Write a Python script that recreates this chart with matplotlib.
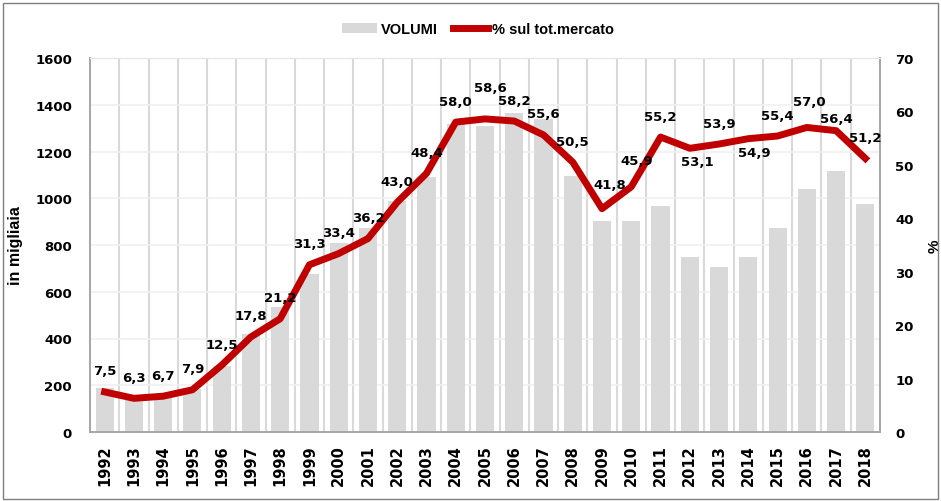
import matplotlib.pyplot as plt
import numpy as np
from matplotlib.patches import Rectangle

years = [str(y) for y in range(1992, 2019)]
volumi = [187, 150, 160, 184, 284, 419, 533, 676, 808, 872, 989, 1092, 1318,
          1310, 1364, 1339, 1094, 904, 904, 968, 750, 706, 750, 872, 1041, 1115, 977]
quota = [7.5, 6.3, 6.7, 7.9, 12.5, 17.8, 21.2, 31.3, 33.4, 36.2, 43.0, 48.4, 58.0,
         58.6, 58.2, 55.6, 50.5, 41.8, 45.9, 55.2, 53.1, 53.9, 54.9, 55.4, 57.0, 56.4, 51.2]

# label offsets (dx, dy) in pixels relative to each point
label_offsets = {i: (0, 21) for i in range(len(years))}
label_offsets.update({13: (5, 31), 17: (8, 24), 18: (5, 26), 20: (7, -13),
                      22: (6, -14), 24: (2, 26), 25: (0, 12)})

plt.rcParams["font.family"] = ["DejaVu Sans"]

fig = plt.figure(figsize=(9.41, 5.02), dpi=100)
ax = fig.add_axes([90 / 941, 1 - 433 / 502, 790 / 941, 374 / 502])
ax2 = ax.twinx()

x = np.arange(len(years))
bars = ax.bar(x, volumi, width=0.62, color="#d9d9d9", zorder=2, label="VOLUMI")
ax.set_xlim(-0.5, len(years) - 0.5)
ax.set_ylim(0, 1600)
ax.set_yticks(range(0, 1601, 200))
ax.set_xticks(x)
ax.set_xticklabels(years, rotation=90, fontsize=10.5, fontweight="bold")
for b in np.arange(0.5, len(years) - 1, 1):
    ax.axvline(b, color="#d9d9d9", lw=1.5, zorder=1)
for yv in range(200, 1601, 200):
    ax.axhline(yv, color="#f0f0f0", lw=1.2, zorder=1)
ax.tick_params(axis="both", length=0)
ax.tick_params(axis="y", pad=13, labelsize=9.5)
ax.tick_params(axis="x", pad=9)
for lab in ax.get_yticklabels():
    lab.set_fontweight("bold")
ax.set_ylabel("in migliaia", fontsize=11.5, fontweight="bold", family="Liberation Sans", labelpad=9)

line, = ax2.plot(x, quota, color="#c00000", lw=5, zorder=3, label="% sul tot.mercato")
ax2.set_ylim(0, 70)
ax2.set_yticks(range(0, 71, 10))
ax2.tick_params(axis="y", length=0, pad=11, labelsize=9.5)
for lab in ax2.get_yticklabels():
    lab.set_fontweight("bold")
ax2.set_ylabel("%", fontsize=11, fontweight="bold", family="Liberation Sans", labelpad=10)

for i, v in enumerate(quota):
    dx, dy = label_offsets[i]
    ax2.annotate(f"{v:.1f}".replace(".", ","), (i, v), xytext=(dx * 0.72, dy * 0.72),
                 textcoords="offset points", ha="center", va="center",
                 fontsize=9.5, fontweight="bold", color="black", zorder=4)

for a in (ax, ax2):
    for side in ("left", "bottom", "right"):
        a.spines[side].set_color("#a6a6a6")
        a.spines[side].set_linewidth(1.2)
    a.spines["top"].set_color("#e6e6e6")

fig.legend(handles=[bars, line], labels=["VOLUMI", "% sul tot.mercato"],
           loc="center", bbox_to_anchor=(478 / 941, 1 - 30 / 502), ncol=2, frameon=False,
           prop={"family": "Liberation Sans", "weight": "bold", "size": 10.5},
           handlelength=2.4, columnspacing=1.0, handletextpad=0.3)

fig.patches.append(Rectangle((0.003, 0.003), 0.994, 0.99, transform=fig.transFigure,
                             fill=False, edgecolor="#7f7f7f", lw=1))

fig.savefig("out.png", dpi=100)
